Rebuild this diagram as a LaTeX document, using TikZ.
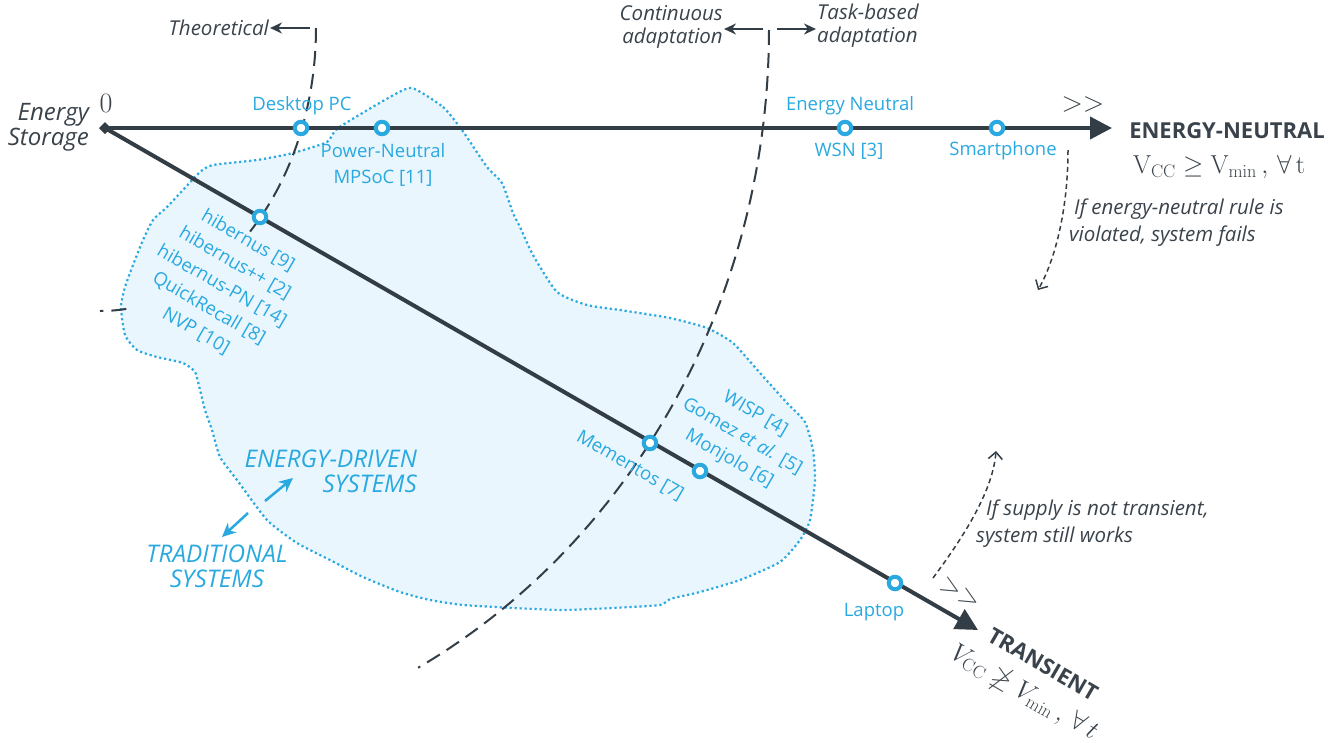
\RequirePackage{fix-cm}
\documentclass[tikz,border=0pt]{standalone}
\usepackage{amssymb}
\usepackage[no-math]{fontspec}
\setmainfont{Open Sans}
\usetikzlibrary{arrows.meta}
\definecolor{dk}{HTML}{333D45}
\definecolor{dktxt}{HTML}{3A434B}
\definecolor{bl}{HTML}{29A9E0}
\definecolor{blfill}{HTML}{EAF6FD}
\tikzset{
  axisline/.style={draw=dk, line width=4pt},
  ringnode/.style={circle, draw=bl, line width=4pt, fill=white, minimum size=12.5pt, inner sep=0pt},
  bluetxt/.style={text=bl, inner sep=1pt, font=\fontsize{18.5}{26}\selectfont},
  darkit/.style={text=dktxt, inner sep=1pt, font=\fontsize{20.5}{23}\selectfont\itshape},
  adaptcurve/.style={draw=dk, line width=2pt, dash pattern=on 15pt off 8pt},
  notearrow/.style={draw=dk, line width=1.5pt, dash pattern=on 5pt off 3.5pt, -{Straight Barb[length=7pt,width=14pt,line width=1.5pt]}},
  darkarrow/.style={draw=dk, line width=2pt, -{Stealth[length=12pt,width=11pt]}},
  bluearrow/.style={draw=bl, line width=2.5pt, -{Stealth[length=14pt,width=13pt]}},
}
\begin{document}
\begin{tikzpicture}[x=1pt,y=-1pt]
\useasboundingbox (0,0) rectangle (1338,742);
% blob
\filldraw[fill=blfill, draw=bl, line width=2.2pt, dash pattern=on 2.2pt off 2.8pt]
 plot[smooth cycle, tension=0.35] coordinates {
 (412,88) (443,107) (462,130) (487,167) (502,183) (513,213) (520,227) (533,255)
 (557,292) (587,305) (620,310) (670,318) (707,328) (733,343) (760,373) (787,403)
 (805,422) (813,450) (815,480) (810,520) (800,540) (780,562) (740,580) (700,592)
 (670,599) (660,605) (613,608) (563,610) (513,608) (463,605) (430,600) (400,592)
 (363,577) (330,560) (297,543) (267,520) (237,480) (220,457) (212,430) (205,410)
 (200,390) (195,372) (183,363) (157,357) (137,350) (125,335) (121,307) (125,287)
 (133,265) (143,240) (153,220) (167,207) (183,190) (200,172) (213,165) (257,160)
 (293,153) (327,142) (338,128) (390,97)};
% adaptation boundaries
\draw[adaptcurve] plot[domain=0:46, samples=40] ({100+216*cos(\x)},{28+283*sin(\x)});
\draw[adaptcurve] plot[domain=83:90, samples=8] ({100+216*cos(\x)},{28+283*sin(\x)});
\draw[adaptcurve] plot[domain=0:61.6, samples=60] ({100+669*cos(\x)},{30+725*sin(\x)});
% axes
\coordinate (O) at (105,128);
\coordinate (ENtip) at (1112,128);
\coordinate (TRtip) at (978,630);
\draw[axisline, -{Triangle[length=22pt,width=22pt]}] (O) -- (ENtip);
\draw[axisline, -{Triangle[length=22pt,width=22pt]}] (O) -- (TRtip);
\fill[dk] (O) ++(-6,0) -- ++(6,-6) -- ++(6,6) -- ++(-6,6) -- cycle;
% rings
\node[ringnode] (dpc) at (301,128) {};
\node[ringnode] (pn) at (382,128) {};
\node[ringnode] (wsn) at (845,128) {};
\node[ringnode] (sp) at (997,128) {};
\node[ringnode] (hib) at (260,217) {};
\node[ringnode] (mem) at (650,443) {};
\node[ringnode] (mon) at (700,471) {};
\node[ringnode] (lap) at (895,583) {};
% blue labels
\node[bluetxt] (tdpc) at (302,106) {Desktop PC};
\node[bluetxt, align=center] (tpn) at (383,165) {Power-Neutral\\MPSoC [11]};
\node[bluetxt] (ten) at (850,106) {Energy Neutral};
\node[bluetxt] (twsn) at (849,151) {WSN [3]};
\node[bluetxt] (tsp) at (1003,151) {Smartphone};
\node[bluetxt] (tlap) at (874,612) {Laptop};
\node[bluetxt, align=center, rotate=-30] (thib) at (222,286) {hibernus [9]\\hibernus++ [2]\\hibernus-PN [14]\\QuickRecall [8]\\NVP [10]};
\node[bluetxt, rotate=-30] (tmem) at (630,466) {Mementos [7]};
\node[bluetxt, align=center, rotate=-30] (twisp) at (742,437) {WISP [4]\\Gomez \textit{et al.} [5]\\Monjolo [6]};
% energy-driven / traditional
\node[text=bl, inner sep=1pt, align=right, font=\fontsize{24.3}{25}\selectfont\itshape, anchor=east] (ed) at (418,471) {ENERGY-DRIVEN\\SYSTEMS};
\node[text=bl, inner sep=1pt, align=center, font=\fontsize{24.3}{25}\selectfont\itshape] (trad) at (217,566) {TRADITIONAL\\SYSTEMS};
\coordinate (bA) at (265,501);
\coordinate (bB) at (293,478);
\coordinate (bC) at (248,513);
\coordinate (bD) at (222,537);
\draw[bluearrow] (bA) -- (bB);
\draw[bluearrow] (bC) -- (bD);
% top labels
\node[darkit, anchor=east] (theo) at (270,28) {Theoretical};
\coordinate (thA) at (310,28);
\draw[darkarrow] (thA) -- (theo.east);
\node[darkit, anchor=east, align=right] (cont) at (724,27) {Continuous\\adaptation};
\node[darkit, anchor=west, align=left] (task) at (816,26) {Task-based\\adaptation};
\coordinate (cA) at (763,29);
\coordinate (cB) at (777,29);
\draw[darkarrow] (cA) -- (cont.east |- cA);
\draw[darkarrow] (cB) -- (task.west |- cB);
% origin
\node[text=dktxt, inner sep=0pt, font=\fontsize{28}{30}\selectfont] (zero) at (106,103) {$0$};
\node[text=dktxt, inner sep=1pt, font=\fontsize{24}{25}\selectfont\itshape, align=right, anchor=east] (es) at (90,127) {Energy\\Storage};
% energy neutral
\node[text=dktxt, inner sep=0pt, font=\fontsize{28}{30}\selectfont] (gg1) at (1083,104) {$>>$};
\node[text=dktxt, inner sep=1pt, font=\fontsize{22}{24}\selectfont\bfseries] (ent) at (1227,131) {ENERGY-NEUTRAL};
\node[text=dktxt, inner sep=1pt, font=\fontsize{26}{28}\selectfont] (enf) at (1219,167) {$\mathrm{V_{CC}} \geq \mathrm{V_{min}}\,,\, \forall\, \mathrm{t}$};
\node[darkit, anchor=west] (n1a) at (1073,209) {If energy-neutral rule is};
\node[darkit, anchor=west] (n1b) at (1068,236) {violated, system fails};
\coordinate (a1s) at (1068,150);
\coordinate (a1e) at (1038,290);
\draw[notearrow] (a1s) .. controls (1068,210) and (1055,260) .. (a1e);
% transient
\node[text=dktxt, inner sep=0pt, font=\fontsize{28}{30}\selectfont, rotate=-30] (gg2) at (960,593) {$>>$};
\node[text=dktxt, inner sep=1pt, font=\fontsize{22}{24}\selectfont\bfseries, rotate=-30] (trt) at (1043,664) {TRANSIENT};
\node[text=dktxt, inner sep=1pt, font=\fontsize{26}{28}\selectfont, rotate=-30] (trf) at (1024,693) {$V_{\mathrm{CC}} \ngeq V_{\mathrm{min}}\,,\, \forall\, t$};
\node[darkit, anchor=west] (n2a) at (985,510) {If supply is not transient,};
\node[darkit, anchor=west] (n2b) at (975,537) {system still works};
\coordinate (a2s) at (933,578);
\coordinate (a2e) at (996,451);
\draw[notearrow] (a2s) .. controls (965,535) and (993,490) .. (a2e);
\end{tikzpicture}
\end{document}
